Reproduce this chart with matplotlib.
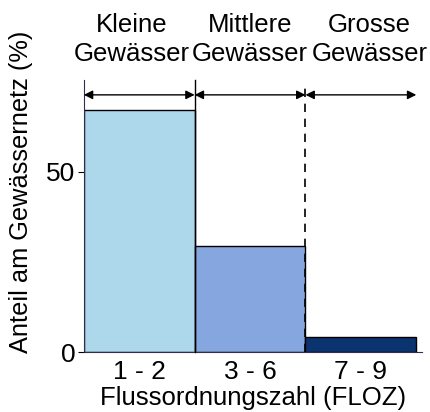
import matplotlib
matplotlib.use("Agg")
import matplotlib.pyplot as plt

plt.rcParams['font.family'] = ['Liberation Sans', 'DejaVu Sans']

categories = ["1 - 2", "3 - 6", "7 - 9"]
values = [67.2, 29.4, 4.2]
groups = ["Kleine\nGewässer", "Mittlere\nGewässer", "Grosse\nGewässer"]
colors = ["#add8ec", "#85a6de", "#0a3370"]

fig = plt.figure(figsize=(4.30, 4.12), dpi=100)
ax = fig.add_axes([0.195, 0.1456, 0.786, 0.66])

x = [0.5, 1.5, 2.5]
ax.bar(x, values, width=1.0, color=colors, edgecolor="black", linewidth=1.0, zorder=2)

ymax = 75.5
ax.set_xlim(0, 3.05)
ax.set_ylim(0, ymax)

# separators
ax.plot([1, 1], [0, ymax], color="black", lw=1.0, zorder=3, clip_on=False)
ax.plot([2, 2], [0, ymax - 0.5], color="black", lw=1.2, ls=(0, (5, 4)), zorder=3, clip_on=False)

# arrows
arrow_y = 71.4
for a, b in [(0, 1), (1, 2), (2, 3.0)]:
    ax.annotate("", xy=(b, arrow_y), xytext=(a, arrow_y),
                arrowprops=dict(arrowstyle="<|-|>", color="black", lw=1.0,
                                mutation_scale=13, shrinkA=0, shrinkB=0),
                annotation_clip=False)

# group labels
for gx, g in zip([0.43, 1.5, 2.58], groups):
    ax.text(gx, ymax + 4.0, g, ha="center", va="bottom", fontsize=18.5,
            linespacing=1.25, clip_on=False)

ax.spines["top"].set_visible(False)
ax.spines["right"].set_visible(False)
ax.spines["left"].set_color("#3a2a4a")
ax.spines["bottom"].set_color("#3a2a4a")

ax.set_yticks([0, 50])
ax.set_xticks(x)
ax.set_xticklabels(categories)
ax.tick_params(axis="x", length=0, labelsize=19, pad=6)
ax.tick_params(axis="y", length=4, labelsize=19, pad=2)

ax.set_xlabel("Flussordnungszahl (FLOZ)", fontsize=18.5, labelpad=1)
ax.set_ylabel("Anteil am Gewässernetz (%)", fontsize=18.3)
ax.yaxis.set_label_coords(-0.15, 0.59)

fig.savefig("out.png", dpi=100)
